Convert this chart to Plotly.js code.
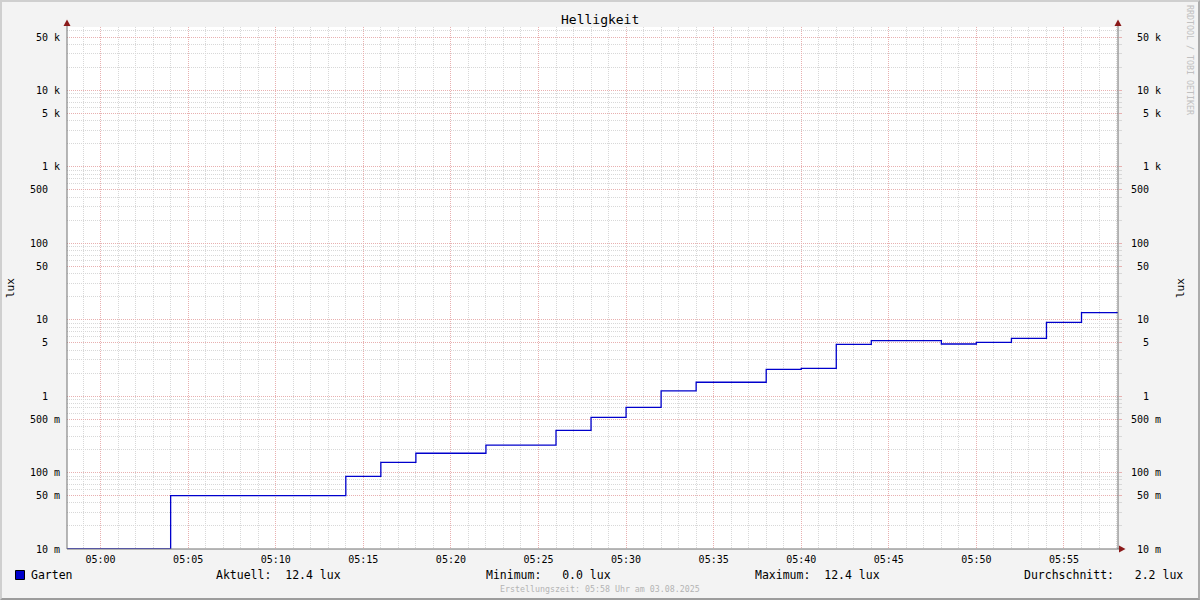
<!DOCTYPE html>
<html>
<head>
<meta charset="utf-8">
<script src="https://cdn.plot.ly/plotly-3.0.1.min.js"></script>
<style>
html,body{margin:0;padding:0;background:#f3f3f3;}
#wrap{position:relative;width:1200px;height:600px;}
#chart{width:1200px;height:600px;}
#frame{position:absolute;left:0;top:0;width:1196px;height:596px;border-top:2px solid #cfcfcf;border-left:2px solid #cfcfcf;border-bottom:2px solid #9c9c9c;border-right:2px solid #ababab;pointer-events:none;}
</style>
</head>
<body>
<div id="wrap"><div id="chart"></div><div id="frame"></div></div>
<script>
// ---- data ----
const day = '2025-08-03 ';
const stepTimes = ['04:58:00','05:04:00','05:14:00','05:16:00','05:18:00','05:22:00','05:26:00','05:28:00','05:30:00','05:32:00','05:34:00','05:38:00','05:40:00','05:42:00','05:44:00','05:48:00','05:50:00','05:52:00','05:54:00','05:56:00','05:58:05'];
const luxValues = [0, 0.05, 0.089, 0.136, 0.179, 0.228, 0.357, 0.528, 0.714, 1.17, 1.52, 2.24, 2.31, 4.76, 5.32, 4.81, 5.06, 5.71, 9.25, 12.4, 12.4];
const majorTickVals = [0.01, 0.05, 0.1, 0.5, 1, 5, 10, 50, 100, 500, 1000, 5000, 10000, 50000];
const majorTickText = ['10 m','50 m','100 m','500 m','1','5','10','50','100','500','1 k','5 k','10 k','50 k'];
const minorMultipliers = [2, 3, 4, 6, 7, 8, 9];
const decades = [0.01, 0.1, 1, 10, 100, 1000, 10000];
const legendName = 'Garten';
const statsText = [
  {label: 'Aktuell:  12.4 lux', px: 215},
  {label: 'Minimum:   0.0 lux', px: 485},
  {label: 'Maximum:  12.4 lux', px: 754},
  {label: 'Durchschnitt:   2.2 lux', px: 1023}
];
const titleText = 'Helligkeit';
const unitText = 'lux';
const footerText = 'Erstellungszeit: 05:58 Uhr am 03.08.2025';
const creditText = 'RRDTOOL / TOBI OETIKER';

// ---- geometry ----
const W = 1200, H = 600, L = 67, R = 1118, T = 27, B = 549;
const px = x => (x - L) / (R - L);
const py = y => (B - y) / (B - T);
const Y_FLOOR = 0.01; // zero values drawn on the bottom of the log axis
const nb = s => s.replace(/ /g, '\u00a0');
const pad5 = s => nb((' '.repeat(5) + (s.indexOf(' ') < 0 ? s + '  ' : s)).slice(-5));

const xs = stepTimes.map(t => day + t);
const ys = luxValues.map(v => v > 0 ? v : Y_FLOOR);
const minorVals = [];
decades.forEach(d => minorMultipliers.forEach(m => minorVals.push(+(d * m).toPrecision(3))));

const mono = 'DejaVu Sans Mono, monospace';
const majorGrid = '#e8b0b0';
const minorGrid = '#d8d8d8';
const dotted = '1px,1px';

const traces = [
  {x: xs, y: ys, type: 'scatter', mode: 'lines', line: {shape: 'hv', color: '#0000cc', width: 1.3}, hoverinfo: 'x+y', showlegend: false},
  {x: xs, y: ys, type: 'scatter', mode: 'lines', yaxis: 'y2', line: {shape: 'hv', width: 0}, opacity: 0, hoverinfo: 'skip', showlegend: false}
];

const yTicks = majorTickText.map(pad5);
const yCommon = {
  type: 'log', range: [-2, Math.log10(Y_FLOOR) + (B - T) / 76.43], autorange: false,
  tickmode: 'array', tickvals: majorTickVals, ticktext: yTicks,
  tickfont: {family: mono, size: 10, color: '#000'}, fixedrange: true, zeroline: false, showline: false
};

const annotations = [
  {text: titleText, xref: 'paper', yref: 'paper', x: 0.5 * (px(0) + px(W)), y: py(19), xanchor: 'center', yanchor: 'middle', showarrow: false, font: {family: mono, size: 13, color: '#000'}},
  {text: unitText, xref: 'paper', yref: 'paper', x: px(10), y: py(288), textangle: -90, xanchor: 'center', yanchor: 'middle', showarrow: false, font: {family: mono, size: 11, color: '#000'}},
  {text: unitText, xref: 'paper', yref: 'paper', x: px(1180), y: py(288), textangle: -90, xanchor: 'center', yanchor: 'middle', showarrow: false, font: {family: mono, size: 11, color: '#000'}},
  {text: legendName, xref: 'paper', yref: 'paper', x: px(29), y: py(575), xanchor: 'left', yanchor: 'middle', showarrow: false, font: {family: mono, size: 11.5, color: '#000'}},
  {text: footerText, xref: 'paper', yref: 'paper', x: px(600), y: py(589), xanchor: 'center', yanchor: 'middle', showarrow: false, font: {family: mono, size: 8.3, color: '#b4b4b4'}},
  {text: creditText, xref: 'paper', yref: 'paper', x: px(1190), y: py(60), textangle: 90, xanchor: 'center', yanchor: 'middle', showarrow: false, font: {family: mono, size: 8.3, color: '#c0c0c0'}}
];
statsText.forEach(s => annotations.push({text: nb(s.label), xref: 'paper', yref: 'paper', x: px(s.px - 1), y: py(575), xanchor: 'left', yanchor: 'middle', showarrow: false, font: {family: mono, size: 11.5, color: '#000'}}));

const axisCol = '#707070';
const arrowCol = '#8b1a1a';
const shapes = [
  {type: 'line', xref: 'paper', yref: 'paper', x0: px(L), x1: px(L), y0: py(B), y1: py(23), line: {color: axisCol, width: 1}, layer: 'above'},
  {type: 'line', xref: 'paper', yref: 'paper', x0: px(R), x1: px(R), y0: py(B), y1: py(23), line: {color: axisCol, width: 1}, layer: 'above'},
  {type: 'line', xref: 'paper', yref: 'paper', x0: px(L), x1: px(1121), y0: py(B), y1: py(B), line: {color: axisCol, width: 1}, layer: 'above'},
  {type: 'path', xref: 'paper', yref: 'paper', path: `M ${px(L-3.5)} ${py(26)} L ${px(L+3.5)} ${py(26)} L ${px(L)} ${py(19.5)} Z`, fillcolor: arrowCol, line: {width: 0}, layer: 'above'},
  {type: 'path', xref: 'paper', yref: 'paper', path: `M ${px(R-3.5)} ${py(26)} L ${px(R+3.5)} ${py(26)} L ${px(R)} ${py(19.5)} Z`, fillcolor: arrowCol, line: {width: 0}, layer: 'above'},
  {type: 'path', xref: 'paper', yref: 'paper', path: `M ${px(1119)} ${py(545.5)} L ${px(1119)} ${py(552.5)} L ${px(1125.5)} ${py(549)} Z`, fillcolor: arrowCol, line: {width: 0}, layer: 'above'},
  {type: 'rect', xref: 'paper', yref: 'paper', x0: px(15.5), x1: px(24.5), y0: py(579.5), y1: py(570.5), fillcolor: '#0000cc', line: {color: '#000', width: 1}}
];

const layout = {
  width: W, height: H,
  margin: {l: L, r: W - R, t: T, b: H - B, pad: 0},
  paper_bgcolor: '#f3f3f3', plot_bgcolor: '#ffffff',
  showlegend: false,
  font: {family: mono, size: 10, color: '#000'},
  xaxis: {
    type: 'date', range: [day + '04:58:05', day + '05:58:05'], autorange: false, fixedrange: true,
    tickmode: 'linear', tick0: day + '05:00:00', dtick: 300000, tickformat: '%H:%M',
    tickfont: {family: mono, size: 10, color: '#000'},
    showgrid: true, gridcolor: majorGrid, griddash: dotted, gridwidth: 1,
    minor: {dtick: 60000, tick0: day + '05:00:00', showgrid: true, gridcolor: minorGrid, griddash: dotted, gridwidth: 1},
    showline: false, zeroline: false, ticks: '', ticklabelstandoff: 3
  },
  yaxis: Object.assign({}, yCommon, {
    side: 'left', showgrid: true, gridcolor: majorGrid, griddash: dotted, gridwidth: 1,
    minor: {tickmode: 'array', tickvals: minorVals, showgrid: true, gridcolor: minorGrid, griddash: dotted, gridwidth: 1},
    ticks: '', ticklabelstandoff: 6
  }),
  yaxis2: Object.assign({}, yCommon, {
    overlaying: 'y', side: 'right', showgrid: false,
    ticks: 'outside', ticklen: 3, tickcolor: majorGrid,
    minor: {tickmode: 'array', tickvals: minorVals, ticks: 'outside', ticklen: 3, tickcolor: minorGrid, showgrid: false},
    ticklabelstandoff: 7
  }),
  annotations: annotations,
  shapes: shapes
};

Plotly.newPlot('chart', traces, layout, {displayModeBar: false, staticPlot: true});
</script>
</body>
</html>
